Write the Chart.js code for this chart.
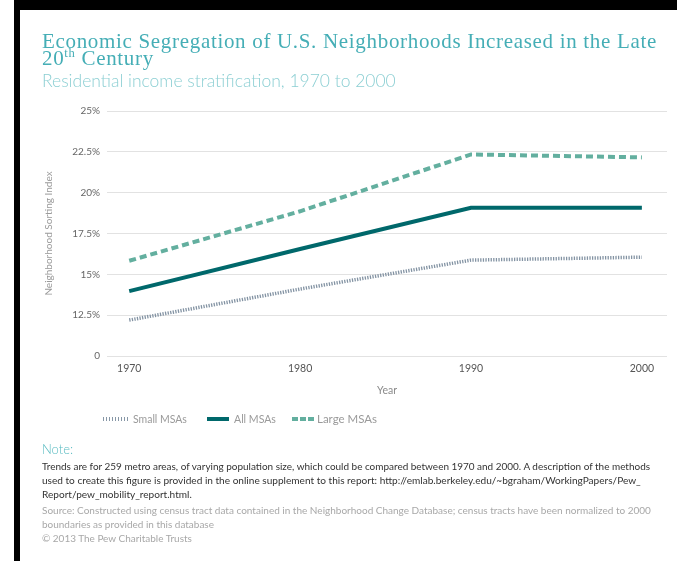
<!DOCTYPE html>
<html>
<head>
<meta charset="utf-8">
<script src="https://cdn.jsdelivr.net/npm/chart.js@4.4.1/dist/chart.umd.min.js"></script>
<style>
  html,body{margin:0;padding:0;background:#fff;}
  body{width:677px;height:561px;overflow:hidden;position:relative;font-family:Lato,"Open Sans",sans-serif;}
  .t{position:absolute;left:42px;white-space:nowrap;}
  .sw{position:absolute;height:4px;}
  .lg{position:absolute;white-space:nowrap;color:#9a9a9a;font-size:10px;line-height:12px;}
</style>
</head>
<body>
<canvas id="c" width="677" height="561" style="position:absolute;left:0;top:0;"></canvas>
<div style="position:absolute;left:14px;top:0;width:663px;height:10px;background:#000"></div>
<div style="position:absolute;left:14px;top:0;width:6px;height:561px;background:#000"></div>

<div class="t" id="title1" style="top:30px;line-height:22px;font-family:'Liberation Serif',serif;font-size:21px;color:#45aeb6;">Economic Segregation of U.S. Neighborhoods Increased in the Late</div>
<div class="t" id="title2" style="top:47px;line-height:22px;font-family:'Liberation Serif',serif;font-size:21px;color:#45aeb6;">20<sup style="font-size:0.6em;vertical-align:0.6em;line-height:0">th</sup> Century</div>
<div class="t" id="subtitle" style="top:70px;line-height:22px;font-family:Lato,sans-serif;font-weight:300;font-size:17px;color:#8ccfd3;">Residential income stratification, 1970 to 2000</div>

<div class="sw" style="left:103px;top:417px;width:26px;background:repeating-linear-gradient(90deg,#8797a6 0 1.5px,#ffffff 1.5px 3px);"></div>
<div class="lg" id="lg1" style="left:133px;top:413px;">Small MSAs</div>
<div class="sw" style="left:207px;top:417px;width:22px;background:#00686b;"></div>
<div class="lg" id="lg2" style="left:234px;top:413px;">All MSAs</div>
<div class="sw" style="left:292px;top:417px;width:22px;background:repeating-linear-gradient(90deg,#63af9f 0 6px,#ffffff 6px 8px);"></div>
<div class="lg" id="lg3" style="left:317px;top:413px;">Large MSAs</div>

<div class="t" id="note" style="top:441px;line-height:16px;font-size:13px;color:#5bbcc2;font-weight:300;">Note:</div>
<div class="t" id="b1" style="top:459px;line-height:14px;font-size:10.5px;color:#333;">Trends are for 259 metro areas, of varying population size, which could be compared between 1970 and 2000. A description of the methods</div>
<div class="t" id="b2" style="top:473px;line-height:14px;font-size:10.5px;color:#333;">used to create this figure is provided in the online supplement to this report: http://emlab.berkeley.edu/~bgraham/WorkingPapers/Pew_</div>
<div class="t" id="b3" style="top:487px;line-height:14px;font-size:10.5px;color:#333;">Report/pew_mobility_report.html.</div>
<div class="t" id="s1" style="top:503px;line-height:14px;font-size:10.5px;color:#a8a8a8;">Source: Constructed using census tract data contained in the Neighborhood Change Database; census tracts have been normalized to 2000</div>
<div class="t" id="s2" style="top:517px;line-height:14px;font-size:10.5px;color:#a8a8a8;">boundaries as provided in this database</div>
<div class="t" id="s3" style="top:531px;line-height:14px;font-size:10.5px;color:#a8a8a8;">© 2013 The Pew Charitable Trusts</div>

<script>
// ---- data ----
const years = [1970, 1980, 1990, 2000];
const xTickLabels = ['1970', '1980', '1990', '2000'];
const smallMSAs = [12.2, 14.1, 15.87, 16.05];
const allMSAs = [13.97, 16.55, 19.08, 19.07];
const largeMSAs = [15.83, 18.86, 22.34, 22.16];
const yTicks = [10, 12.5, 15, 17.5, 20, 22.5, 25];
const yTickLabels = ['0', '12.5%', '15%', '17.5%', '20%', '22.5%', '25%'];

// ---- fit text widths ----
function fit(id, w) {
  const el = document.getElementById(id);
  const fs = parseFloat(getComputedStyle(el).fontSize);
  const cur = el.getBoundingClientRect().width;
  if (cur > 0) el.style.fontSize = (fs * w / cur) + 'px';
}
function fitSpacing(id, w) {
  const el = document.getElementById(id);
  const cur = el.getBoundingClientRect().width;
  const n = el.textContent.length;
  if (cur > 0) el.style.letterSpacing = ((w - cur) / n) + 'px';
  return (w - cur) / n;
}
const ls = fitSpacing('title1', 615);
document.getElementById('title2').style.letterSpacing = ls + 'px';
fit('subtitle', 354);
fit('b1', 609);
fit('b2', 600);
fit('b3', 150);
fit('s1', 610);
fit('s2', 172);
fit('s3', 150);
fit('lg1', 54);
fit('lg2', 42);
fit('lg3', 60);

// ---- chart ----
Chart.defaults.font.family = 'Lato, "Open Sans", sans-serif';
const toPts = arr => years.map((x, i) => ({x: x, y: arr[i]}));

new Chart(document.getElementById('c'), {
  type: 'line',
  data: {
    datasets: [
      {label: 'Small MSAs', data: toPts(smallMSAs), borderColor: '#8393a3', borderWidth: 3.5, borderDash: [1.3, 1.3], borderCapStyle: 'butt', pointRadius: 0, tension: 0, fill: false},
      {label: 'All MSAs', data: toPts(allMSAs), borderColor: '#00686b', borderWidth: 4, borderCapStyle: 'butt', pointRadius: 0, tension: 0, fill: false},
      {label: 'Large MSAs', data: toPts(largeMSAs), borderColor: '#63af9f', borderWidth: 4, borderDash: [7, 4], borderCapStyle: 'butt', pointRadius: 0, tension: 0, fill: false}
    ]
  },
  options: {
    responsive: false,
    animation: false,
    layout: {padding: {left: 0, top: 111, right: 10, bottom: 160}},
    plugins: {legend: {display: false}, tooltip: {enabled: false}, title: {display: false}},
    scales: {
      x: {
        type: 'linear',
        min: 1968.7,
        max: 2001.47,
        afterBuildTicks: s => { s.ticks = years.map(v => ({value: v})); },
        afterFit: s => { s.height = 45; s.paddingLeft = 0; s.paddingRight = 0; },
        grid: {display: false, drawTicks: false},
        border: {display: false},
        ticks: {
          padding: 6,
          color: '#555',
          font: {size: 10.5},
          maxRotation: 0,
          autoSkip: false,
          callback: v => xTickLabels[years.indexOf(v)]
        },
        title: {display: true, text: 'Year', color: '#8a8a8a', font: {size: 10.5}, padding: {top: 0, bottom: 4}}
      },
      y: {
        type: 'linear',
        min: 10,
        max: 25,
        afterBuildTicks: s => { s.ticks = yTicks.map(v => ({value: v})); },
        afterFit: s => { s.width = 107; s.paddingTop = 0; s.paddingBottom = 0; },
        grid: {color: '#e2e2e2', lineWidth: 1, drawTicks: false},
        border: {display: false},
        ticks: {
          padding: 7,
          color: '#666',
          font: {size: 10},
          autoSkip: false,
          callback: v => yTickLabels[yTicks.indexOf(v)]
        },
        title: {display: true, text: 'Neighborhood Sorting Index', color: '#9a9a9a', font: {size: 10}, padding: {top: 43, bottom: 0}}
      }
    }
  }
});
</script>
</body>
</html>
